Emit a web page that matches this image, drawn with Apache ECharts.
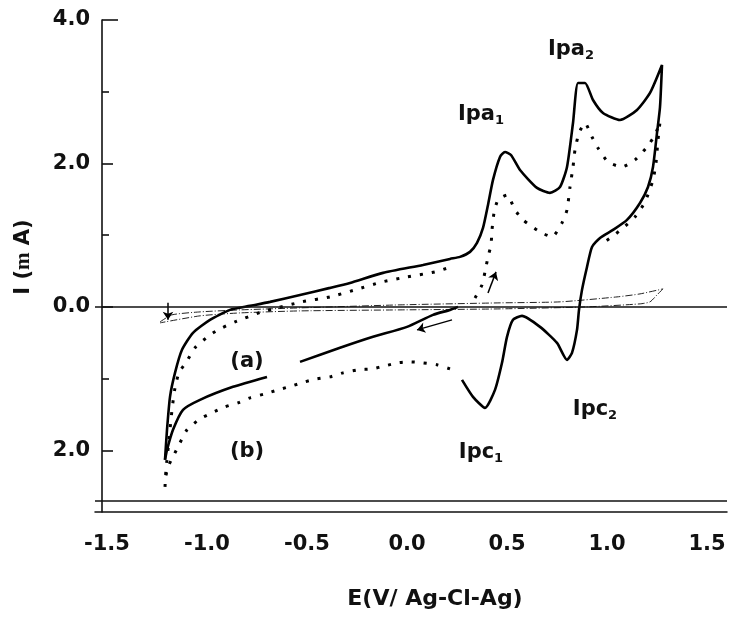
<!DOCTYPE html>
<html>
<head>
<meta charset="utf-8">
<script src="https://cdn.jsdelivr.net/npm/echarts@6/dist/echarts.min.js"></script>
<style>html,body{margin:0;padding:0;background:#fff}#c{width:736px;height:628px}</style>
</head>
<body>
<div id="c"></div>
<script>
// ---- data (E in V, I in mA) ----
var solidMain = [
  [-1.21,-2.132],[-1.20,-1.714],[-1.185,-1.254],[-1.16,-0.920],[-1.125,-0.599],[-1.07,-0.362],
  [-0.985,-0.181],[-0.885,-0.042],[-0.785,0.014],[-0.685,0.070],[-0.535,0.167],[-0.385,0.265],
  [-0.285,0.334],[-0.12,0.474],[0.08,0.585],[0.215,0.669],[0.265,0.697],[0.315,0.767],
  [0.35,0.892],[0.38,1.101],[0.405,1.422],[0.43,1.770],[0.465,2.091],[0.49,2.160],[0.52,2.118],
  [0.565,1.909],[0.65,1.659],[0.715,1.589],[0.765,1.672],[0.80,1.951],[0.83,2.564],[0.855,3.122],
  [0.89,3.122],[0.93,2.885],[0.98,2.704],[1.065,2.606],[1.15,2.746],[1.215,2.983],[1.275,3.373],
  [1.265,2.787],[1.25,2.425],[1.23,1.951],[1.205,1.672],[1.165,1.449],[1.10,1.213],[1.03,1.073],
  [0.965,0.962],[0.925,0.836],[0.90,0.557],[0.875,0.237],[0.86,-0.042],[0.85,-0.321],[0.825,-0.641],
  [0.80,-0.739],[0.75,-0.502],[0.665,-0.279],[0.575,-0.125],[0.53,-0.181],[0.50,-0.418],
  [0.475,-0.780],[0.44,-1.157],[0.39,-1.408],[0.33,-1.254],[0.275,-1.017]
];
var solidReturn = [
  [0.255,0],[0.215,-0.042],[0.13,-0.111],[0.0,-0.279],[-0.17,-0.418],[-0.335,-0.571],[-0.535,-0.767],
  null,
  [-0.70,-0.976],[-0.87,-1.115],[-1.035,-1.296],[-1.12,-1.436],[-1.17,-1.714],[-1.20,-1.993],[-1.21,-2.132]
];
var dottedForwardLow = [
  [-1.21,-2.509],[-1.205,-2.272],[-1.19,-1.854],[-1.175,-1.436],[-1.16,-1.129],[-1.14,-0.920],
  [-1.10,-0.753],[-1.06,-0.571],[-0.985,-0.390],[-0.925,-0.293],[-0.86,-0.209],[-0.725,-0.070],
  [-0.525,0.070],[-0.385,0.139],[-0.26,0.237],[-0.125,0.348],[0.0,0.418],[0.14,0.488],[0.205,0.544]
];
var dottedPeaks = [
  [0.34,0.125],[0.375,0.307],[0.39,0.488],[0.405,0.697],[0.42,0.864],[0.425,1.073],[0.435,1.310],
  [0.455,1.491],[0.50,1.561],[0.54,1.352],[0.58,1.213],[0.665,1.045],[0.725,0.976],[0.775,1.171],
  [0.80,1.352],[0.815,1.672],[0.83,1.951],[0.84,2.188],[0.86,2.425],[0.89,2.564],[0.925,2.369],
  [0.955,2.216],[1.005,2.021],[1.075,1.951],[1.14,2.049],[1.20,2.230],[1.24,2.397],[1.265,2.578],
  [1.255,2.328],[1.245,2.007],[1.23,1.770],[1.19,1.463],[1.14,1.254],[1.08,1.101],[1.025,0.976],
  [0.965,0.864]
];
var dottedReturn = [
  [0.215,-0.864],[0.15,-0.808],[0.08,-0.780],[0.015,-0.767],[-0.045,-0.780],[-0.11,-0.822],
  [-0.175,-0.864],[-0.245,-0.878],[-0.32,-0.920],[-0.385,-0.976],[-0.45,-1.003],[-0.51,-1.045],
  [-0.575,-1.101],[-0.645,-1.157],[-0.71,-1.213],[-0.785,-1.268],[-0.845,-1.338],[-0.91,-1.394],
  [-0.975,-1.477],[-1.035,-1.561],[-1.10,-1.714],[-1.135,-1.895],[-1.17,-2.091],[-1.195,-2.230],
  [-1.21,-2.411]
];
var blankForward = [
  [-1.235,-0.209],[-1.175,-0.111],[-1.035,-0.070],[-0.835,-0.042],[-0.535,-0.014],[-0.035,0.028],
  [0.465,0.056],[0.765,0.070],[1.05,0.139],[1.165,0.181],[1.28,0.251]
];
var blankReturn = [
  [1.28,0.251],[1.25,0.167],[1.215,0.070],[1.165,0.042],[0.90,0],[0.465,-0.028],[-0.035,-0.042],
  [-0.535,-0.056],[-0.835,-0.084],[-1.035,-0.125],[-1.235,-0.223]
];
var scanArrows = [
  [[0.225,-0.181],[0.05,-0.321]],
  [[0.405,0.195],[0.445,0.488]],
  [[-1.195,0.056],[-1.195,-0.181]]
];
var annotations = [
  {pos:[0.82,3.582], main:'Ipa', sub:'2'},
  {pos:[0.37,2.676], main:'Ipa', sub:'1'},
  {pos:[0.37,-2.035], main:'Ipc', sub:'1'},
  {pos:[0.94,-1.436], main:'Ipc', sub:'2'},
  {pos:[-0.80,-0.767], main:'(a)', sub:''},
  {pos:[-0.80,-2.021], main:'(b)', sub:''}
];
var xTickValues = [-1.5,-1.0,-0.5,0.0,0.5,1.0,1.5];
var xTickLabels = ['-1.5','-1.0','-0.5','0.0','0.5','1.0','1.5'];
var yTickValues = [4,2,0,-2];
var yTickLabels = ['4.0','2.0','0.0','2.0'];
var yMinorTicks = [3,1,-1];
var frameLevels = [0,-2.7];

// ---- chart ----
var FONT = 'DejaVu Sans';
var chart = echarts.init(document.getElementById('c'), null, {renderer:'canvas'});
var Y_MIN = -2.86, Y_MAX = 4.0, X_MIN = -1.56, X_MAX = 1.6;
function yAx(extra){
  var base = {
    type:'value', min:Y_MIN, max:Y_MAX, position:'left', offset:-7,
    splitLine:{show:false},
    axisLine:{show:false, onZero:false},
    axisLabel:{show:false}, axisTick:{show:false}
  };
  return Object.assign(base, extra);
}
var solidStyle = {color:'#000', width:2.6};
var dotStyle = {color:'#000', width:3, type:[3,9]};
var thinStyle = {color:'#222', width:1, type:[7,2,1,2]};
function lineSeries(name, data, style){
  return {name:name, type:'line', data:data, showSymbol:false, symbol:'none',
    smooth:0.2, connectNulls:false, lineStyle:style, z:3, silent:true};
}
var option = {
  backgroundColor:'#fff',
  animation:false,
  grid:{left:95, right:9, top:20, bottom:116, containLabel:false},
  xAxis:{
    type:'value', min:X_MIN, max:X_MAX,
    axisLine:{show:true, onZero:false, lineStyle:{color:'#111', width:1.5}},
    axisTick:{show:false},
    splitLine:{show:false},
    axisLabel:{
      customValues:xTickValues, margin:22,
      fontFamily:FONT, fontWeight:'bold', fontSize:21, color:'#111',
      formatter:function(v){ var i = xTickValues.indexOf(v); return i>=0 ? xTickLabels[i] : ''; }
    },
    name:'E(V/ Ag-Cl-Ag)', nameLocation:'middle', nameGap:76,
    nameTextStyle:{fontFamily:FONT, fontWeight:'bold', fontSize:22, color:'#111', padding:[0,0,0,48]}
  },
  yAxis:[
    yAx({
      axisLine:{show:true, onZero:false, lineStyle:{color:'#111', width:1.6}},
      axisTick:{show:true, inside:true, length:11, customValues:[2,0,-2], lineStyle:{color:'#111', width:1.6}},
      axisLabel:{show:true, customValues:yTickValues, margin:12,
        fontFamily:FONT, fontWeight:'bold', fontSize:21, color:'#111',
        formatter:function(v){ var i = yTickValues.indexOf(v); return i>=0 ? yTickLabels[i] : ''; }},
      name:'{a|I (}{m|m}{a| A)}', nameLocation:'middle', nameRotate:90, nameGap:68,
      nameTextStyle:{padding:[0,0,0,18], rich:{
        a:{fontFamily:FONT, fontWeight:'bold', fontSize:21, color:'#111'},
        m:{fontFamily:'Liberation Serif', fontWeight:'bold', fontSize:21, color:'#111'}
      }}
    }),
    yAx({axisTick:{show:true, inside:true, length:7, customValues:yMinorTicks, lineStyle:{color:'#111', width:1.6}}}),
    yAx({axisTick:{show:true, inside:true, length:16, customValues:[4], lineStyle:{color:'#111', width:1.6}}})
  ],
  series:[
    Object.assign(lineSeries('blank forward', blankForward, thinStyle), {
      markLine:{silent:true, symbol:'none', label:{show:false},
        lineStyle:{color:'#111', width:1.5, type:'solid'},
        data:frameLevels.map(function(v){ return {yAxis:v}; })}
    }),
    lineSeries('blank return', blankReturn, thinStyle),
    lineSeries('dotted forward', dottedForwardLow, dotStyle),
    lineSeries('dotted peaks', dottedPeaks, dotStyle),
    lineSeries('dotted return', dottedReturn, dotStyle),
    lineSeries('solid', solidMain, solidStyle),
    lineSeries('solid return', solidReturn, solidStyle),
    {type:'lines', coordinateSystem:'cartesian2d', silent:true, z:4,
      symbol:['none','arrow'], symbolSize:8,
      lineStyle:{color:'#000', width:1.5, opacity:1},
      data:scanArrows.map(function(c){ return {coords:c}; })},
    {type:'scatter', symbolSize:0, silent:true, z:5,
      itemStyle:{opacity:1, color:'#111'},
      data:annotations.map(function(a){ return {value:a.pos, main:a.main, sub:a.sub}; }),
      label:{show:true, position:'inside', color:'#111', opacity:1,
        formatter:function(p){ return '{m|'+p.data.main+'}' + (p.data.sub ? '{s|'+p.data.sub+'}' : ''); },
        rich:{
          m:{fontFamily:FONT, fontWeight:'bold', fontSize:21, lineHeight:24, color:'#111'},
          s:{fontFamily:FONT, fontWeight:'bold', fontSize:13, lineHeight:13, verticalAlign:'bottom', color:'#111'}
        }}
    }
  ]
};
chart.setOption(option);
</script>
</body>
</html>
